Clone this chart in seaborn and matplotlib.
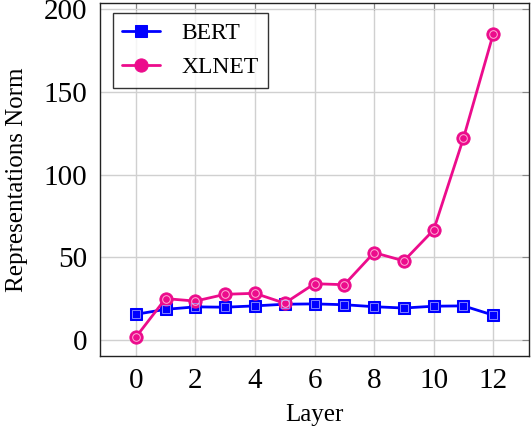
import pandas as pd
import matplotlib.pyplot as plt
import seaborn as sns

layers = list(range(13))
bert = [15.5, 18.5, 20.0, 19.8, 20.6, 21.6, 21.8, 21.3, 20.1, 19.3, 20.4, 20.6, 15.0]
xlnet = [1.6, 25.0, 23.5, 27.6, 28.2, 22.2, 34.0, 33.4, 52.8, 47.8, 66.5, 122.0, 185.0]

blue = '#0000FF'
pink = '#EC0C8C'

df = pd.DataFrame({'Layer': layers, 'BERT': bert, 'XLNET': xlnet})

sns.set_style('white')
plt.rcParams['font.family'] = ['Liberation Serif', 'DejaVu Serif']
plt.rcParams['text.color'] = 'black'
plt.rcParams['axes.labelcolor'] = 'black'
plt.rcParams['xtick.labelcolor'] = 'black'
plt.rcParams['ytick.labelcolor'] = 'black'

fig, ax = plt.subplots(figsize=(5.32, 4.28), dpi=100)
fig.subplots_adjust(left=100/532, right=529/532, top=1-3/428, bottom=1-356/428)

sns.lineplot(data=df, x='Layer', y='BERT', ax=ax, color=blue, marker='s',
             markersize=9, markeredgecolor=blue, linewidth=2, label='BERT')
sns.lineplot(data=df, x='Layer', y='XLNET', ax=ax, color=pink, marker='o',
             markersize=9.5, markeredgecolor=pink, linewidth=2, label='XLNET')
# inner highlight rings like the pgfplots marks
ax.plot(df['Layer'], df['BERT'], ls='none', marker='s', markersize=5.5,
        markerfacecolor='none', markeredgecolor='#9999ff', markeredgewidth=0.6)
ax.plot(df['Layer'], df['XLNET'], ls='none', marker='o', markersize=5.5,
        markerfacecolor='none', markeredgecolor='#ffb0d8', markeredgewidth=0.7)

ax.set_xlim(-1.2, 13.2)
ax.set_ylim(-9.7, 203.7)
ax.set_xticks(range(0, 13, 2))
ax.set_yticks(range(0, 201, 50))
ax.grid(True, color='#d0d0d0', linewidth=1)
ax.tick_params(axis='both', labelsize=21, direction='in', length=5, color='#888888',
               top=True, right=True, pad=9)
for s in ax.spines.values():
    s.set_color('#222222')
    s.set_linewidth(1.0)

ax.set_xlabel('Layer', fontsize=18, labelpad=7)
ax.set_ylabel('Representations Norm', fontsize=18, labelpad=11)

leg = ax.legend(loc='upper left', bbox_to_anchor=(13/429, 1-10/353), borderaxespad=0,
                fontsize=17, frameon=True, fancybox=False, edgecolor='black',
                handlelength=1.6, borderpad=0.4, labelspacing=0.55, handletextpad=0.9)
leg.get_frame().set_linewidth(1.0)

fig.savefig('out.png', dpi=100)
